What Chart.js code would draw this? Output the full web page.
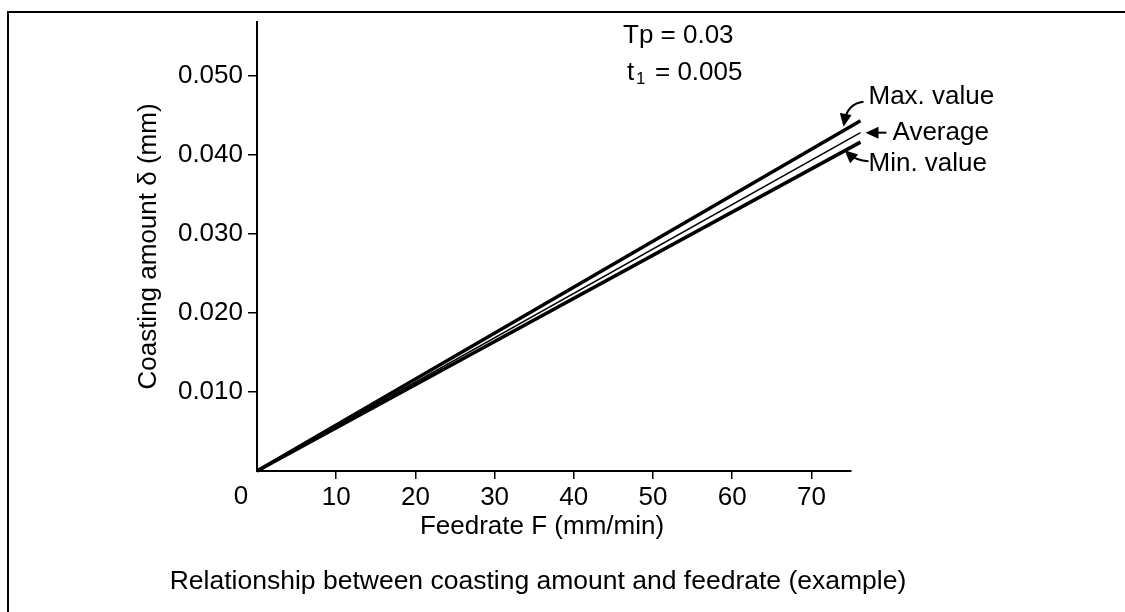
<!DOCTYPE html>
<html>
<head>
<meta charset="utf-8">
<script src="https://cdn.jsdelivr.net/npm/chart.js@4"></script>
<style>
  html, body { margin: 0; padding: 0; background: #fff; }
  #wrap { width: 1125px; height: 612px; }
</style>
</head>
<body>
<div id="wrap"><canvas id="chart"></canvas></div>
<script>
// values
const feedrate = [0, 76.2];
const maxValue = [0, 0.0443];
const average = [0, 0.0428];
const minValue = [0, 0.0416];
const seriesNames = ["Max. value", "Average", "Min. value"];
const xTicks = [10, 20, 30, 40, 50, 60, 70];
const yTicks = [0.01, 0.02, 0.03, 0.04, 0.05];

const FONT = "'Liberation Sans', Arial, sans-serif";
const SIZE = 26;

const toPoints = (ys) => feedrate.map((x, i) => ({ x: x, y: ys[i] }));

// arrow with filled head at (tx, ty), coming from control point (cx, cy)
function arrow(ctx, sx, sy, cx, cy, tx, ty) {
  const a = Math.atan2(ty - cy, tx - cx);
  const len = 13, half = 6;
  ctx.beginPath();
  ctx.moveTo(sx, sy);
  ctx.quadraticCurveTo(cx, cy, tx - 6 * Math.cos(a), ty - 6 * Math.sin(a));
  ctx.stroke();
  ctx.beginPath();
  ctx.moveTo(tx, ty);
  ctx.lineTo(tx - len * Math.cos(a) + half * Math.sin(a), ty - len * Math.sin(a) - half * Math.cos(a));
  ctx.lineTo(tx - len * Math.cos(a) - half * Math.sin(a), ty - len * Math.sin(a) + half * Math.cos(a));
  ctx.closePath();
  ctx.fill();
}

const decorations = {
  id: "decorations",
  beforeDraw(chart) {
    const ctx = chart.ctx;
    ctx.save();
    ctx.fillStyle = "#fff";
    ctx.fillRect(0, 0, chart.width, chart.height);
    // outer frame
    ctx.strokeStyle = "#000";
    ctx.lineWidth = 2;
    ctx.strokeRect(8, 12, chart.width + 20, chart.height + 20);
    ctx.restore();
  },
  afterDraw(chart) {
    const ctx = chart.ctx;
    const xs = chart.scales.x, ys = chart.scales.y;
    const area = chart.chartArea;
    ctx.save();
    ctx.fillStyle = "#000";
    ctx.strokeStyle = "#000";
    ctx.font = SIZE + "px " + FONT;
    ctx.textBaseline = "middle";

    // "0" sits left of the origin
    ctx.textAlign = "center";
    ctx.fillText("0", xs.getPixelForValue(0) - 16, area.bottom + 26);

    // x title and caption
    ctx.fillText("Feedrate F (mm/min)", 542, area.bottom + 56);
    ctx.font = "26.5px " + FONT;
    ctx.fillText("Relationship between coasting amount and feedrate (example)", 538, area.bottom + 111);
    ctx.font = SIZE + "px " + FONT;

    // parameters
    ctx.textAlign = "left";
    ctx.fillText("Tp = 0.03", 623, 36);
    ctx.fillText("t", 627, 73);
    ctx.font = "17px " + FONT;
    ctx.fillText("1", 636, 79);
    ctx.font = SIZE + "px " + FONT;
    ctx.fillText("= 0.005", 655, 73);

    // series labels with arrows
    const ex = xs.getPixelForValue(feedrate[1]);
    const yMax = ys.getPixelForValue(maxValue[1]);
    const yAvg = ys.getPixelForValue(average[1]);
    const yMin = ys.getPixelForValue(minValue[1]);
    ctx.lineWidth = 2;

    ctx.fillText(seriesNames[0], ex + 8, yMax - 24);
    arrow(ctx, ex + 3, yMax - 19, ex - 13, yMax - 17, ex - 17, yMax + 6);

    ctx.fillText(seriesNames[1], ex + 32, yAvg);
    arrow(ctx, ex + 26, yAvg, ex + 15, yAvg, ex + 5, yAvg);

    ctx.fillText(seriesNames[2], ex + 8, yMin + 22);
    arrow(ctx, ex + 8, yMin + 19, ex - 5, yMin + 18, ex - 16, yMin + 8);
    ctx.restore();
  }
};

new Chart(document.getElementById("chart"), {
  type: "line",
  data: {
    datasets: [
      { label: seriesNames[0], data: toPoints(maxValue), borderColor: "#000", borderWidth: 3.5 },
      { label: seriesNames[1], data: toPoints(average), borderColor: "#000", borderWidth: 1.5 },
      { label: seriesNames[2], data: toPoints(minValue), borderColor: "#000", borderWidth: 3.5 }
    ]
  },
  options: {
    responsive: true,
    maintainAspectRatio: false,
    animation: false,
    events: [],
    layout: { padding: { left: 0, top: 22, right: 274, bottom: 0 } },
    elements: { point: { radius: 0 }, line: { tension: 0 } },
    datasets: { line: { clip: false } },
    plugins: { legend: { display: false }, tooltip: { enabled: false } },
    scales: {
      x: {
        type: "linear",
        min: 0,
        max: 75,
        afterBuildTicks: (s) => { s.ticks = xTicks.map((v) => ({ value: v })); },
        afterFit: (s) => { s.height = 141; },
        border: { display: true, color: "#000", width: 2 },
        grid: { drawOnChartArea: false, drawTicks: true, tickLength: 8, color: "#000", lineWidth: 1.5 },
        ticks: { color: "#000", font: { family: FONT, size: SIZE }, padding: 3, maxRotation: 0 }
      },
      y: {
        min: 0,
        max: 0.0568,
        afterBuildTicks: (s) => { s.ticks = yTicks.map((v) => ({ value: v })); },
        afterFit: (s) => { s.width = 257; },
        border: { display: true, color: "#000", width: 2 },
        grid: { drawOnChartArea: false, drawTicks: true, tickLength: 9, color: "#000", lineWidth: 1.5 },
        ticks: { color: "#000", font: { family: FONT, size: SIZE }, padding: 5, callback: (v) => v.toFixed(3) },
        title: {
          display: true,
          text: "Coasting amount δ (mm)",
          color: "#000",
          font: { family: FONT, size: SIZE },
          padding: { top: 133, bottom: 0 }
        }
      }
    }
  },
  plugins: [decorations]
});
</script>
</body>
</html>
